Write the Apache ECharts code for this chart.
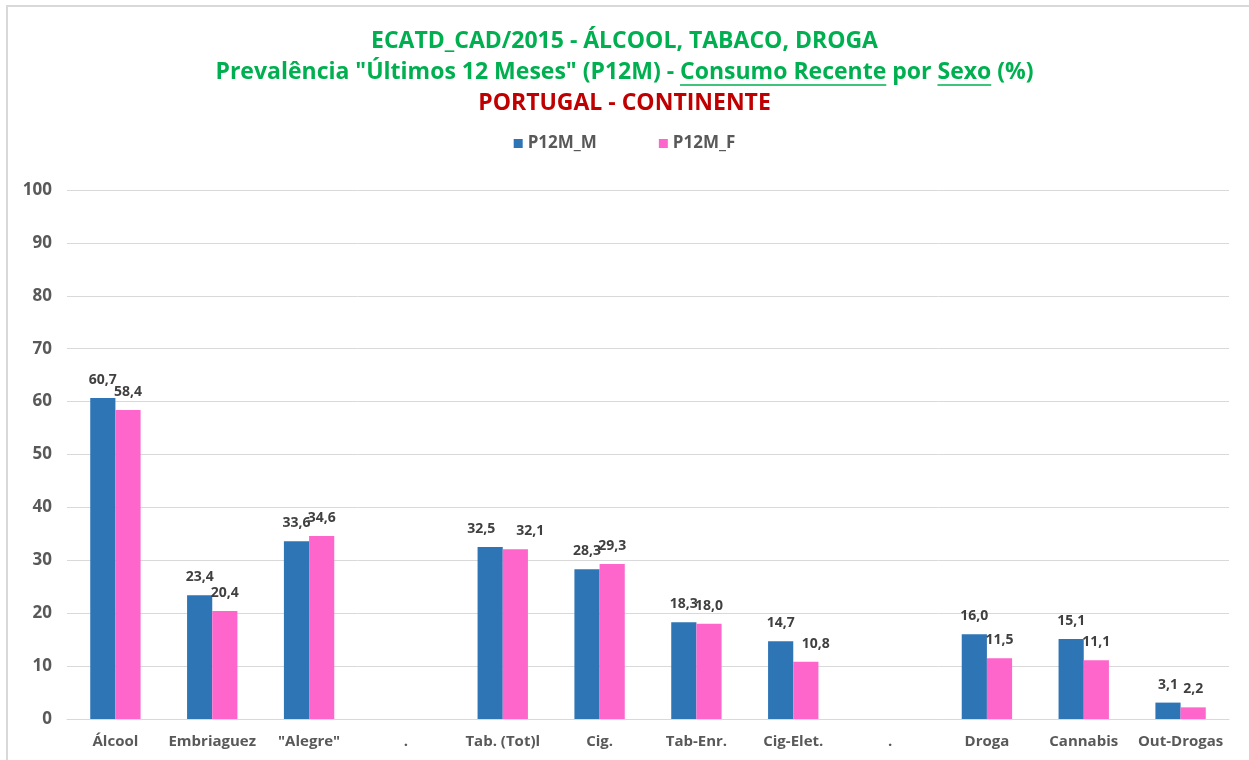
<!DOCTYPE html>
<html>
<head>
<meta charset="utf-8">
<script src="https://cdn.jsdelivr.net/npm/echarts@6/dist/echarts.min.js"></script>
<style>
  html, body { margin: 0; padding: 0; background: #fff; }
  #chart { width: 1249px; height: 760px; }
</style>
</head>
<body>
<div id="chart"></div>
<script>
// categorias e valores (%)
const categories = ['Álcool', 'Embriaguez', '"Alegre"', '.', 'Tab. (Tot)l', 'Cig.', 'Tab-Enr.', 'Cig-Elet.', '.', 'Droga', 'Cannabis', 'Out-Drogas']
const valuesM = [60.7, 23.4, 33.6, null, 32.5, 28.3, 18.3, 14.7, null, 16.0, 15.1, 3.1]
const valuesF = [58.4, 20.4, 34.6, null, 32.1, 29.3, 18.0, 10.8, null, 11.5, 11.1, 2.2]
const seriesNames = ['P12M_M', 'P12M_F']
const yMin = 0
const yMax = 100
const yStep = 10

const FONT = '"Open Sans", sans-serif'
const GREEN = '#00B050'

// deslocamento horizontal dos rotulos (como o Excel afasta os que se tocam)
const labelNudge = {4: [-9, 15], 7: [0, 10]}

// partes da segunda linha do titulo (as sublinhadas levam u: true)
const line2Parts = [
  {t: 'Prevalência "Últimos 12 Meses" (P12M) - ', u: false},
  {t: 'Consumo Recente', u: true},
  {t: ' por ', u: false},
  {t: 'Sexo', u: true},
  {t: ' (%)', u: false}
]
const titleSize = 23
const line2Y = 72

function fmt (v) {
  return v == null ? '' : v.toFixed(1).replace('.', ',')
}

// mede o texto para colocar os sublinhados
function underlines () {
  const ctx = document.createElement('canvas').getContext('2d')
  ctx.font = 'bold ' + titleSize + 'px ' + FONT
  const widths = line2Parts.map(p => ctx.measureText(p.t).width)
  const total = widths.reduce((a, b) => a + b, 0)
  let x = 1249 / 2 - total / 2
  const out = []
  line2Parts.forEach((p, i) => {
    if (p.u) {
      out.push({
        type: 'line',
        shape: {x1: x, y1: line2Y + 13, x2: x + widths[i], y2: line2Y + 13},
        style: {stroke: GREEN, lineWidth: 1.5}
      })
    }
    x += widths[i]
  })
  return out
}

function barData (values, side) {
  return values.map((v, i) => {
    const n = labelNudge[i]
    if (!n || !n[side]) return v
    return {value: v, label: {offset: [n[side], 0]}}
  })
}

const chart = echarts.init(document.getElementById('chart'))

const labelStyle = {
  show: true,
  position: 'top',
  distance: 11,
  color: '#404040',
  fontFamily: FONT,
  fontWeight: 'bold',
  fontSize: 14,
  formatter: p => fmt(p.value)
}

chart.setOption({
  backgroundColor: '#fff',
  animation: false,
  textStyle: {fontFamily: FONT},
  title: [
    {
      text: 'ECATD_CAD/2015 - ÁLCOOL, TABACO, DROGA',
      left: 'center',
      top: 25,
      textStyle: {color: GREEN, fontSize: titleSize, fontWeight: 'bold', fontFamily: FONT}
    },
    {
      text: line2Parts.map(p => p.t).join(''),
      left: 'center',
      top: line2Y - 16,
      textStyle: {color: GREEN, fontSize: titleSize, fontWeight: 'bold', fontFamily: FONT}
    },
    {
      text: 'PORTUGAL - CONTINENTE',
      left: 'center',
      top: 87,
      textStyle: {color: '#C00000', fontSize: titleSize, fontWeight: 'bold', fontFamily: FONT}
    }
  ],
  graphic: [
    {
      type: 'rect',
      shape: {x: 7, y: 6, width: 1300, height: 800},
      style: {fill: 'none', stroke: '#d9d9d9', lineWidth: 2},
      silent: true
    }
  ].concat(underlines()),
  legend: {
    data: seriesNames,
    top: 130,
    left: 'center',
    itemWidth: 9,
    itemHeight: 9,
    itemGap: 62,
    icon: 'rect',
    textStyle: {color: '#595959', fontSize: 17, fontWeight: 'bold', fontFamily: FONT}
  },
  grid: {
    left: 67,
    right: 20,
    top: 190,
    bottom: 41,
    containLabel: false
  },
  xAxis: {
    type: 'category',
    data: categories,
    axisLine: {lineStyle: {color: '#d9d9d9', width: 1}},
    axisTick: {show: false},
    axisLabel: {
      interval: 0,
      color: '#595959',
      fontSize: 15,
      fontWeight: 'bold',
      fontFamily: FONT,
      margin: 15
    }
  },
  yAxis: {
    type: 'value',
    min: yMin,
    max: yMax,
    interval: yStep,
    axisLine: {show: false},
    axisTick: {show: false},
    splitLine: {lineStyle: {color: '#d9d9d9', width: 1}},
    axisLabel: {
      color: '#595959',
      fontSize: 17,
      fontWeight: 'bold',
      fontFamily: FONT,
      margin: 15
    }
  },
  series: [
    {
      name: seriesNames[0],
      type: 'bar',
      data: barData(valuesM, 0),
      barWidth: '26%',
      barGap: '0%',
      itemStyle: {color: '#2E75B6'},
      label: labelStyle
    },
    {
      name: seriesNames[1],
      type: 'bar',
      data: barData(valuesF, 1),
      barWidth: '26%',
      barGap: '0%',
      itemStyle: {color: '#FF66CC'},
      label: labelStyle
    }
  ]
})
</script>
</body>
</html>
